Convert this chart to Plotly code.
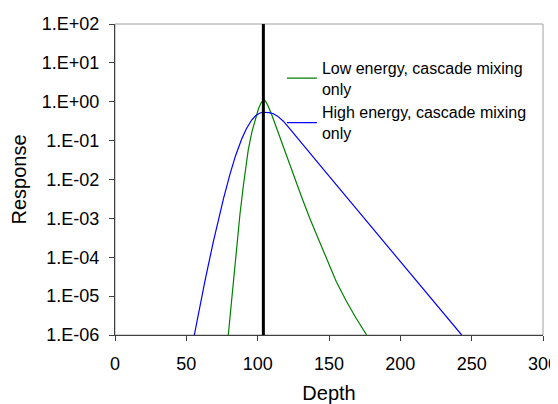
## Depth response, log scale ##

import plotly.graph_objects as go

# Low energy, cascade mixing only (green)
low_depth = [79.4, 82.9, 85, 87.6, 89.9, 93.4, 96, 98.1, 100.5, 102.5, 103.6, 104.4,
             105.4, 107, 110, 115, 120, 125, 131, 137, 148.3, 155, 162, 169, 176.4]
low_resp = [1e-6, 2.2e-5, 1.3e-4, 1.3e-3, 6.6e-3, 0.058, 0.17, 0.34, 0.65, 0.95, 1.08, 1.12,
            1.05, 0.82, 0.45, 0.14, 0.043, 0.013, 3.4e-3, 9.1e-4, 8.9e-5, 2.4e-5,
            7.6e-6, 2.7e-6, 1e-6]

# High energy, cascade mixing only (blue)
high_depth = [55.6, 59, 63.1, 68.9, 72.4, 76, 80.6, 84.5, 88.8, 92, 95.8, 98.5,
              101.6, 104, 108, 111, 114, 118, 122, 129.6, 148.3, 171.7, 199.7, 220, 243]
high_resp = [1e-6, 4.5e-6, 2.5e-5, 2.5e-4, 8.9e-4, 3.16e-3, 0.0138, 0.041, 0.11, 0.2,
             0.339, 0.437, 0.513, 0.537, 0.525, 0.49, 0.427, 0.316, 0.214, 0.1,
             0.0145, 1.36e-3, 7.8e-5, 1.0e-5, 1e-6]

# vertical marker
marker_depth = [104, 104]
marker_resp = [1e-6, 1e2]

ytick_vals = [1e-6, 1e-5, 1e-4, 1e-3, 1e-2, 1e-1, 1e0, 1e1, 1e2]
ytick_text = ['1.E-06', '1.E-05', '1.E-04', '1.E-03', '1.E-02', '1.E-01',
              '1.E+00', '1.E+01', '1.E+02']

font = 'Arial, Liberation Sans, sans-serif'
axis_col = '#404040'

fig = go.Figure()

fig.add_trace(go.Scatter(x=low_depth, y=low_resp, mode='lines',
                         name='Low energy, cascade mixing<br>only',
                         line=dict(color='#008000', width=1.2)))
fig.add_trace(go.Scatter(x=high_depth, y=high_resp, mode='lines',
                         name='High energy, cascade mixing<br>only',
                         line=dict(color='#0000FF', width=1.2)))
fig.add_trace(go.Scatter(x=marker_depth, y=marker_resp, mode='lines',
                         showlegend=False, line=dict(color='black', width=3)))

# light grey frame on top/right of plot area
fig.add_shape(type='rect', xref='paper', yref='paper', x0=0, x1=1, y0=0, y1=1,
              line=dict(color='#A0A0A0', width=1), layer='below')

# page body has an 8px margin, so the figure is 8px smaller than the window
fig.update_layout(
    width=550, height=396,
    margin=dict(l=107, r=15, t=16, b=69),
    plot_bgcolor='white', paper_bgcolor='white',
    font=dict(family=font, size=18, color='black'),
    showlegend=True,
    legend=dict(x=0.39, y=0.914, xanchor='left', yanchor='top',
                font=dict(size=16), bgcolor='rgba(0,0,0,0)'),
    xaxis=dict(title=dict(text='Depth', font=dict(size=20), standoff=14),
               range=[0, 300], dtick=50, tick0=0, automargin=False,
               showgrid=False, zeroline=False,
               showline=True, linecolor=axis_col, linewidth=1,
               ticks='outside', ticklen=5, tickcolor=axis_col,
               ticklabelstandoff=7, ticklabeloverflow='allow'),
    yaxis=dict(title=dict(text='Response', font=dict(size=20), standoff=12),
               type='log', range=[-6, 2], automargin=False,
               tickvals=ytick_vals, ticktext=ytick_text,
               showgrid=False, zeroline=False,
               showline=True, linecolor=axis_col, linewidth=1,
               ticks='outside', ticklen=5, tickcolor=axis_col,
               ticklabelstandoff=6),
)

fig.write_html('out.html')
